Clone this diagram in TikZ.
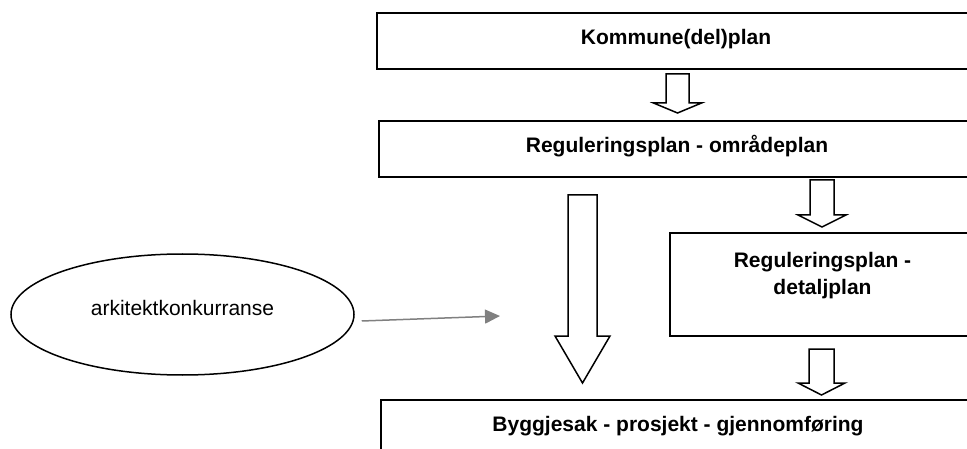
\documentclass[tikz,border=0pt]{standalone}
\usepackage{fontspec}
\setmainfont{Liberation Sans}
\usetikzlibrary{shapes.geometric,arrows.meta}

\begin{document}
\begin{tikzpicture}
[x=1pt,y=-1pt,line width=1.5pt,
 every node/.style={font=\fontsize{21}{27}\selectfont},
 planbox/.style={draw,rectangle,minimum height=56pt,text height=15.5pt,text depth=8pt,font=\fontsize{21}{27}\selectfont\bfseries},
 blockarrow/.style={draw,fill=white,line join=miter},
 feed/.style={draw=gray,-{Triangle[length=15pt,width=14pt]}}]
\clip (0,0) rectangle (967,449);
\fill[white] (0,0) rectangle (967,449);
\node[planbox,minimum width=598pt] (kommune) at (676,41) {Kommune(del)plan};
\node[planbox,minimum width=596pt] (omrade) at (677,149) {Reguleringsplan - områdeplan};
\node[draw,rectangle,minimum width=305pt,minimum height=103pt] (detalj) at (822.5,284.5) {};
\node[align=center,font=\fontsize{21}{27}\selectfont\bfseries] (detaljtxt) at (822.5,276) {Reguleringsplan -\\detaljplan};
\node[planbox,minimum width=594pt] (bygg) at (678,428) {Byggjesak - prosjekt - gjennomføring};
\node[draw,ellipse,minimum width=343pt,minimum height=121pt,inner sep=0pt,text depth=14pt] (konk) at (182.5,314.5) {arkitektkonkurranse};
\coordinate (konkend) at (500,316);
\draw[feed] ([xshift=7pt,yshift=-6.5pt]konk.east) -- (konkend);
\foreach \cx/\ya/\yb/\yc/\sw/\hw in {677.5/74/103/113/11.5/24, 822/180/215/227/12/24, 821.5/349/383/395/12.5/23.5, 582.5/195/336/383/14.5/27.5}
\draw[blockarrow] (\cx-\sw,\ya) -- (\cx+\sw,\ya) -- (\cx+\sw,\yb) -- (\cx+\hw,\yb) -- (\cx,\yc) -- (\cx-\hw,\yb) -- (\cx-\sw,\yb) -- cycle;
\end{tikzpicture}
\end{document}
